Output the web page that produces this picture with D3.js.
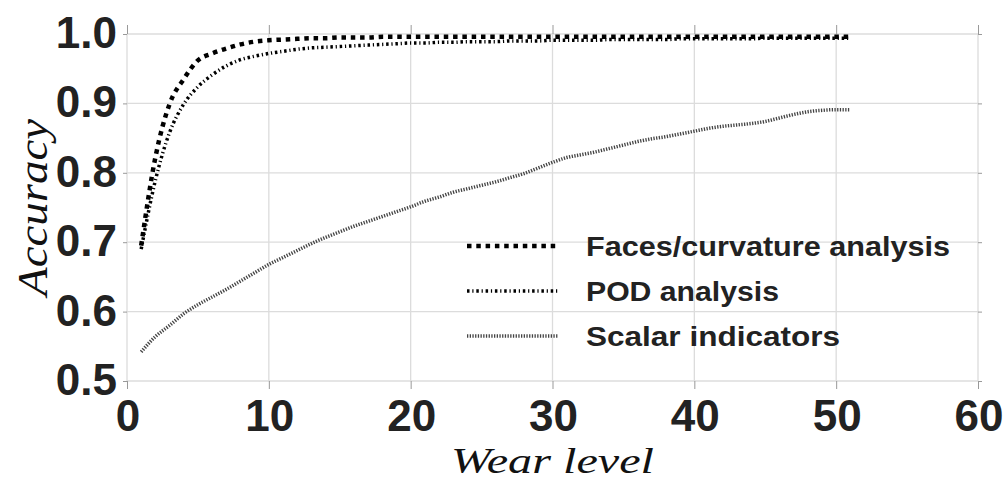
<!DOCTYPE html>
<html><head><meta charset="utf-8">
<script src="https://cdn.jsdelivr.net/npm/d3@7"></script>
<style>body{margin:0;background:#fff}svg{display:block}</style>
</head><body>
<svg id="c" width="1004" height="481"></svg>
<script>
const wear = d3.range(1, 52);
const faces = [0.695,0.822,0.899,0.935,0.962,0.972,0.979,0.985,0.989,0.991,
  0.992,0.993,0.994,0.994,0.995,0.995,0.995,0.996,0.996,0.996,
  0.996,0.996,0.996,0.996,0.996,0.996,0.996,0.996,0.996,0.996,
  0.996,0.996,0.996,0.996,0.996,0.996,0.996,0.996,0.996,0.996,
  0.996,0.996,0.996,0.996,0.996,0.996,0.996,0.996,0.996,0.996,0.996];
const pod = [0.690,0.789,0.858,0.899,0.924,0.941,0.954,0.963,0.968,0.972,
  0.975,0.978,0.980,0.981,0.982,0.983,0.984,0.985,0.986,0.987,
  0.987,0.988,0.988,0.989,0.989,0.989,0.990,0.990,0.990,0.991,
  0.991,0.991,0.991,0.992,0.992,0.992,0.992,0.992,0.993,0.993,
  0.993,0.993,0.993,0.993,0.994,0.994,0.994,0.994,0.994,0.994,0.994];
const scalar = [0.542,0.564,0.580,0.597,0.610,0.621,0.632,0.644,0.656,0.668,
  0.678,0.688,0.698,0.707,0.715,0.723,0.730,0.737,0.744,0.751,
  0.759,0.765,0.772,0.777,0.782,0.787,0.793,0.799,0.807,0.815,
  0.822,0.826,0.830,0.835,0.840,0.845,0.849,0.852,0.856,0.860,
  0.864,0.867,0.869,0.871,0.874,0.879,0.884,0.888,0.890,0.891,0.891];
const xTicks = [0,10,20,30,40,50,60];
const yTicks = [0.5,0.6,0.7,0.8,0.9,1.0];
const seriesNames = ["Faces/curvature analysis","POD analysis","Scalar indicators"];

const svg = d3.select("#c");
const L=127, R=978, T=34, B=381;
const x = d3.scaleLinear().domain([0,60]).range([L,R]);
const y = d3.scaleLinear().domain([0.5,1.0]).range([B,T]);

// grid
const g = svg.append("g");
g.selectAll(".vx").data(xTicks).join("line")
  .attr("x1",d=>x(d)).attr("x2",d=>x(d)).attr("y1",T).attr("y2",B)
  .attr("stroke","#dcdcdc").attr("stroke-width",1.3);
g.selectAll(".hy").data(yTicks).join("line")
  .attr("x1",L).attr("x2",R).attr("y1",d=>y(d)).attr("y2",d=>y(d))
  .attr("stroke","#dcdcdc").attr("stroke-width",1.3);

// ticks via axes
const tickStyle = sel => { sel.select(".domain").remove(); sel.selectAll("line").attr("stroke","#999"); sel.selectAll("text").remove(); };
svg.append("g").attr("transform",`translate(0,${B})`).call(d3.axisBottom(x).tickValues(xTicks).tickSize(8)).call(tickStyle);
svg.append("g").attr("transform",`translate(0,${T})`).call(d3.axisTop(x).tickValues(xTicks).tickSize(9)).call(tickStyle);
svg.append("g").attr("transform",`translate(${L},0)`).call(d3.axisLeft(y).tickValues(yTicks).tickSize(4)).call(tickStyle);
svg.append("g").attr("transform",`translate(${R},0)`).call(d3.axisRight(y).tickValues(yTicks).tickSize(4)).call(tickStyle);

// tick labels
svg.append("g").selectAll("text").data(xTicks).join("text")
  .attr("x",d=>x(d)+1).attr("y",431).attr("text-anchor","middle")
  .attr("font-family","Liberation Sans, Arial, sans-serif").attr("font-weight","bold")
  .attr("font-size",44).attr("fill","#222").text(d=>d);
svg.append("g").selectAll("text").data(yTicks).join("text")
  .attr("x",117).attr("y",d=>y(d)+14).attr("text-anchor","end")
  .attr("font-family","Liberation Sans, Arial, sans-serif").attr("font-weight","bold")
  .attr("font-size",44).attr("fill","#222").text(d=>d.toFixed(1));

// axis titles
svg.append("text").attr("x",(L+R)/2).attr("y",473).attr("text-anchor","middle")
  .attr("font-family","Liberation Serif, Times New Roman, serif").attr("font-style","italic")
  .attr("font-size",36).attr("fill","#111")
  .attr("textLength",203).attr("lengthAdjust","spacingAndGlyphs").text("Wear level");
svg.append("text").attr("transform",`translate(47,${(T+B)/2}) rotate(-90)`).attr("text-anchor","middle")
  .attr("font-family","Liberation Serif, Times New Roman, serif").attr("font-style","italic")
  .attr("font-size",43).attr("fill","#111")
  .attr("textLength",177).attr("lengthAdjust","spacingAndGlyphs").text("Accuracy");

// series
const styles = [
  {data:faces, color:"#000", w:4.5, dash:"4.5,4.8"},
  {data:pod, color:"#000", w:3.5, dash:"2.5,2.8,1.2,2.8"},
  {data:scalar, color:"#444", w:3.5, dash:"1.3,1.4"}
];
const line = d3.line().x((d,i)=>x(wear[i])).y(d=>y(d)).curve(d3.curveMonotoneX);
styles.forEach(s=>{
  svg.append("path").datum(s.data).attr("d",line).attr("fill","none")
    .attr("stroke",s.color).attr("stroke-width",s.w).attr("stroke-dasharray",s.dash);
});

// legend
const legY = [246,291,336];
const legW = [364,193,254];
styles.forEach((s,i)=>{
  svg.append("line").attr("x1",467).attr("x2",558).attr("y1",legY[i]).attr("y2",legY[i])
    .attr("stroke",s.color).attr("stroke-width",s.w).attr("stroke-dasharray",s.dash);
  svg.append("text").attr("x",586).attr("y",legY[i]+10)
    .attr("font-family","Liberation Sans, Arial, sans-serif").attr("font-weight","bold")
    .attr("font-size",28).attr("fill","#222")
    .attr("textLength",legW[i]).attr("lengthAdjust","spacingAndGlyphs").text(seriesNames[i]);
});
</script>
</body></html>
